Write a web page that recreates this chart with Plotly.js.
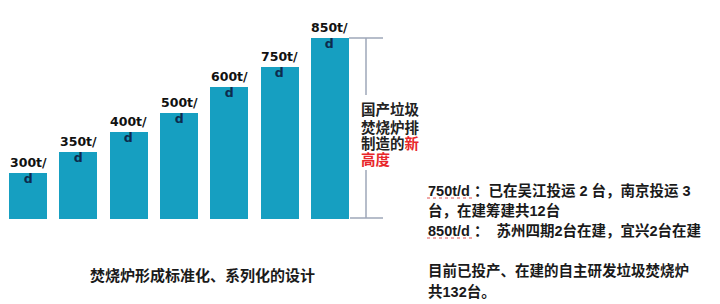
<!DOCTYPE html>
<html>
<head>
<meta charset="utf-8">
<script src="https://cdn.plot.ly/plotly-3.0.1.min.js"></script>
<style>html,body{margin:0;padding:0;background:#fff;}#chart{width:720px;height:304px;}</style>
</head>
<body>
<div id="chart"></div>
<script>
// ---- data ----
const categories = ['300t/d', '350t/d', '400t/d', '500t/d', '600t/d', '750t/d', '850t/d'];
const capacities = [300, 350, 400, 500, 600, 750, 850];
// relative (illustrative) bar heights as drawn in the picture
const barHeights = [46, 67, 87, 106, 132, 152, 181];
const sideNoteLines = ['国产垃圾', '焚烧炉排', '制造的<span style="color:#e8262a">新</span>', '<span style="color:#e8262a">高度</span>'];
const captionText = '焚烧炉形成标准化、系列化的设计';
const noteLines = [
  '750t/d ：已在吴江投运 2 台，南京投运 3',
  '台，在建筹建共12台',
  '850t/d ：  苏州四期2台在建，宜兴2台在建',
  '目前已投产、在建的自主研发垃圾焚烧炉',
  '共132台。'
];

// ---- geometry helpers (pixel -> paper) ----
const W = 720, H = 304;
const L = 3, R = 365, T = 19, B = 85;
const PW = W - L - R, PH = H - T - B;
const px = x => (x - L) / PW;
const py = y => (H - B - y) / PH;

const xs = categories.map((c, i) => i);

const trace = {
  type: 'bar',
  x: xs,
  y: barHeights,
  width: 0.756,
  marker: {color: '#169fc1'},
  hoverinfo: 'skip'
};

const annotations = [];
capacities.forEach((c, i) => {
  annotations.push({
    x: xs[i], y: barHeights[i], xref: 'x', yref: 'y',
    text: c + 't/<br><span style="color:#0d2b4e">d</span>',
    showarrow: false, xanchor: 'center', yanchor: 'middle', yshift: 3,
    font: {family: 'DejaVu Sans', size: 12.5, color: '#111', weight: 'bold'}
  });
});

const cjk = '"Liberation Sans", "Noto Sans CJK SC", sans-serif';
const sideY = [110, 127, 143, 159];
sideNoteLines.forEach((t, i) => {
  annotations.push({
    x: px(359), y: py(sideY[i]), xref: 'paper', yref: 'paper',
    text: t, showarrow: false, xanchor: 'left', yanchor: 'middle',
    font: {family: cjk, size: 14.5, color: '#222', weight: 'bold'}
  });
});

annotations.push({
  x: px(202), y: py(275), xref: 'paper', yref: 'paper',
  text: captionText, showarrow: false, xanchor: 'center', yanchor: 'middle',
  font: {family: cjk, size: 15, color: '#1a1a1a', weight: 'bold'}
});

const noteY = [190, 210, 230, 270, 291];
noteLines.forEach((t, i) => {
  annotations.push({
    x: px(426), y: py(noteY[i]), xref: 'paper', yref: 'paper',
    text: t, showarrow: false, xanchor: 'left', yanchor: 'middle',
    font: {family: cjk, size: 14.5, color: '#1a1a1a', weight: 'bold'}
  });
});

const grey = '#9ea7b8';
const shapes = [
  {type: 'line', xref: 'paper', yref: 'paper', x0: px(349), x1: px(383), y0: py(38), y1: py(38), line: {color: grey, width: 1.5}},
  {type: 'line', xref: 'paper', yref: 'paper', x0: px(366), x1: px(366), y0: py(38), y1: py(95), line: {color: grey, width: 1.5}},
  {type: 'line', xref: 'paper', yref: 'paper', x0: px(366), x1: px(366), y0: py(170), y1: py(218), line: {color: grey, width: 1.5}},
  {type: 'line', xref: 'paper', yref: 'paper', x0: px(350), x1: px(383), y0: py(218), y1: py(218), line: {color: grey, width: 1.5}},
  {type: 'line', xref: 'paper', yref: 'paper', x0: px(427), x1: px(475), y0: py(198), y1: py(198), line: {color: '#e05050', width: 1, dash: 'dot'}},
  {type: 'line', xref: 'paper', yref: 'paper', x0: px(427), x1: px(475), y0: py(238), y1: py(238), line: {color: '#e05050', width: 1, dash: 'dot'}}
];

const layout = {
  width: W, height: H,
  margin: {l: L, r: R, t: T, b: B, pad: 0},
  paper_bgcolor: '#fff', plot_bgcolor: '#fff',
  showlegend: false,
  bargap: 0,
  xaxis: {range: [-0.5, 6.5], visible: false, fixedrange: true},
  yaxis: {range: [0, 200], visible: false, fixedrange: true},
  annotations: annotations,
  shapes: shapes
};

Plotly.newPlot('chart', [trace], layout, {displayModeBar: false, staticPlot: true});
</script>
</body>
</html>
